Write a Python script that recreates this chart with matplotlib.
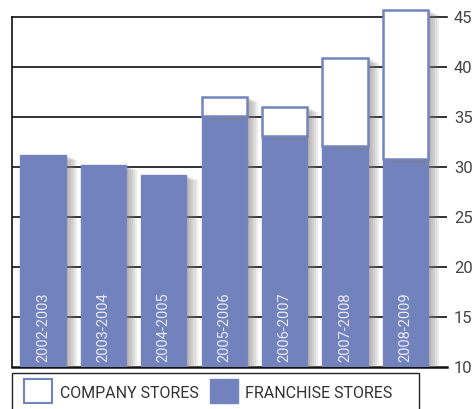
import matplotlib
matplotlib.use("Agg")
import matplotlib.pyplot as plt
from matplotlib.patches import Rectangle
import matplotlib.patheffects as pe

periods = ["2002-2003", "2003-2004", "2004-2005", "2005-2006", "2006-2007", "2007-2008", "2008-2009"]
franchise = [31.2, 30.2, 29.2, 35.1, 33.1, 32.1, 30.8]
company = [0.0, 0.0, 0.0, 1.9, 2.9, 8.8, 14.9]
yticks = [10, 15, 20, 25, 30, 35, 40, 45]
legend_labels = ["COMPANY STORES", "FRANCHISE STORES"]

BLUE = "#7182bc"
EDGE = "#7384be"
FONT = ["Liberation Sans Narrow", "Roboto", "DejaVu Sans"]

W, H = 477, 409
fig = plt.figure(figsize=(W / 100, H / 100), dpi=100)
ax = fig.add_axes([12.3 / W, 1 - 366.7 / H, (447 - 12.3) / W, (366.7 - 16.7) / H])

x = list(range(len(periods)))
shadow = [pe.SimplePatchShadow(offset=(o, -o / 2), shadow_rgbFace="#857f7f", alpha=0.14)
          for o in (2, 3.5, 5, 6.5, 8)] + [pe.Normal()]

ax.set_ylim(10, 45)
ax.set_xlim(-0.508, 6.687)
for v in yticks[1:-1]:
    ax.axhline(v, color="#111111", lw=1.2, zorder=1)

b1 = ax.bar(x, franchise, width=0.75, color=BLUE, edgecolor=EDGE, linewidth=1.0, zorder=3)
for p in b1:
    p.set_path_effects(shadow)
b2 = ax.bar(x, company, bottom=franchise, width=0.75, color="white", edgecolor=EDGE,
            linewidth=1.8, zorder=3)
for p, c in zip(b2, company):
    p.set_clip_on(False)
    if c == 0:
        p.set_visible(False)
    else:
        p.set_path_effects(shadow)

for xi, lab in zip(x, periods):
    ax.text(xi, 10.5, lab, rotation=90, ha="center", va="bottom", color="#e8eaf6",
            fontsize=10.5, family=FONT, zorder=5)

ax.set_xticks([])
ax.yaxis.tick_right()
ax.set_yticks(yticks)
ax.set_yticklabels([str(v) for v in yticks], family=FONT, fontsize=12, color="#444444")
ax.tick_params(axis="y", length=0, pad=5)
ax.spines["right"].set_visible(False)
for s in ["left", "top", "bottom"]:
    ax.spines[s].set_color("#111111")
ax.spines["left"].set_linewidth(1.2)
ax.spines["top"].set_linewidth(1.2)
ax.spines["bottom"].set_linewidth(1.8)
ax.spines["top"].set_zorder(0.5)

# legend box
tf = fig.transFigure
def fx(px):
    return px / W
def fy(py):
    return 1 - py / H
fig.add_artist(Rectangle((fx(12), fy(412)), fx(419) - fx(12), fy(373) - fy(412), transform=tf,
                         facecolor="white", edgecolor="#222222", lw=1.0))
fig.add_artist(Rectangle((fx(24.5), fy(403)), fx(52.5) - fx(24.5), fy(379) - fy(403), transform=tf,
                         facecolor="white", edgecolor=EDGE, lw=1.5))
fig.add_artist(Rectangle((fx(210), fy(403)), fx(238) - fx(210), fy(379) - fy(403), transform=tf,
                         facecolor=BLUE, edgecolor=EDGE, lw=1.0))
fig.text(fx(60), fy(393), legend_labels[0], family=FONT, fontsize=11.5, color="#333333",
         ha="left", va="center")
fig.text(fx(245), fy(393), legend_labels[1], family=FONT, fontsize=11.5, color="#333333",
         ha="left", va="center")

fig.savefig("out.png", dpi=100)
